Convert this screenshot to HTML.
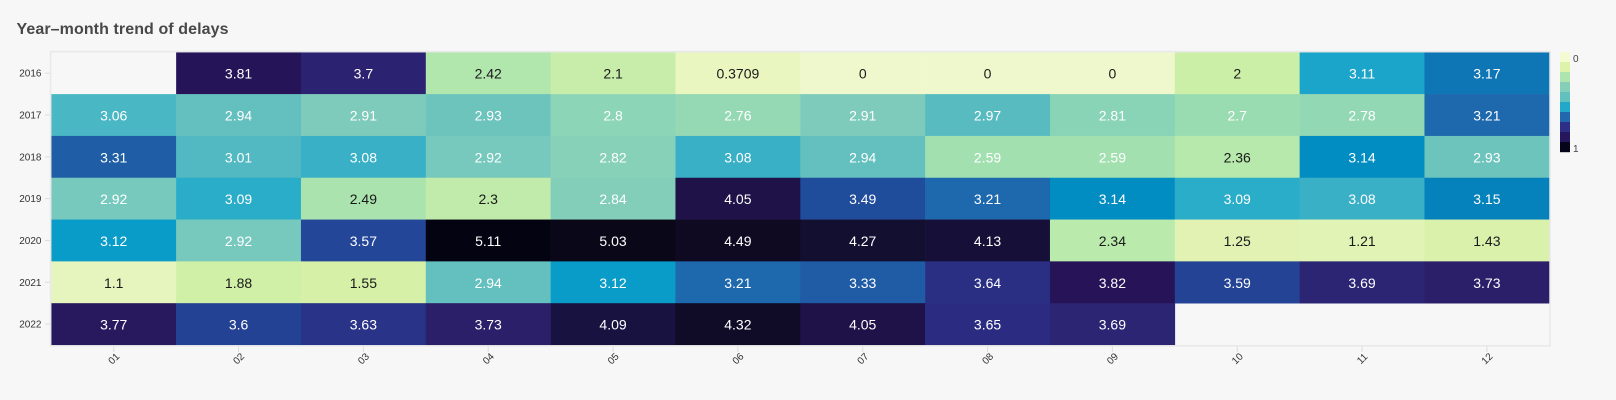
<!DOCTYPE html>
<html>
<head>
<meta charset="utf-8">
<title>Year–month trend of delays</title>
<style>
html,body{margin:0;padding:0;background:#f7f7f7;width:1616px;height:400px;overflow:hidden}
svg{display:block;font-family:"Liberation Sans",sans-serif}
</style>
</head>
<body>
<svg id="chart" width="1616" height="400" viewBox="0 0 1616 400">
<rect x="0" y="0" width="1616" height="400" fill="#f7f7f7"></rect>
<text x="16.5" y="34" font-size="16" font-weight="700" fill="#484848" textLength="212" lengthAdjust="spacing">Year–month trend of delays</text>
<g id="cells"></g>
<rect x="50.6" y="51.6" width="1499.4" height="294.2" fill="none" stroke="#e8e8e8" stroke-width="1.5"></rect>
<g id="y-axis"></g>
<g id="x-axis"></g>
<g id="legend"></g>
</svg>
<script>
const years = ['2016', '2017', '2018', '2019', '2020', '2021', '2022'];
const months = ['01', '02', '03', '04', '05', '06', '07', '08', '09', '10', '11', '12'];
const values2016 = [null, 3.81, 3.7, 2.42, 2.1, 0.3709, 0, 0, 0, 2, 3.11, 3.17];
const values2017 = [3.06, 2.94, 2.91, 2.93, 2.8, 2.76, 2.91, 2.97, 2.81, 2.7, 2.78, 3.21];
const values2018 = [3.31, 3.01, 3.08, 2.92, 2.82, 3.08, 2.94, 2.59, 2.59, 2.36, 3.14, 2.93];
const values2019 = [2.92, 3.09, 2.49, 2.3, 2.84, 4.05, 3.49, 3.21, 3.14, 3.09, 3.08, 3.15];
const values2020 = [3.12, 2.92, 3.57, 5.11, 5.03, 4.49, 4.27, 4.13, 2.34, 1.25, 1.21, 1.43];
const values2021 = [1.1, 1.88, 1.55, 2.94, 3.12, 3.21, 3.33, 3.64, 3.82, 3.59, 3.69, 3.73];
const values2022 = [3.77, 3.6, 3.63, 3.73, 4.09, 4.32, 4.05, 3.65, 3.69, null, null, null];
const seriesByYear = [values2016, values2017, values2018, values2019, values2020, values2021, values2022];
const legendColors = ['#f4fad2', '#dcf3a9', '#aee4ae', '#85cfb9', '#62c0bd', '#22a8c9', '#2268ae', '#2b2f85', '#26175c', '#05051a'];
const legendTicks = ['0', '1'];
const scaleValues = [0, 0.37, 1.1, 1.25, 1.55, 1.88, 2, 2.1, 2.3, 2.36, 2.42, 2.49, 2.59, 2.7, 2.78, 2.81, 2.84, 2.91, 2.92, 2.93, 2.94, 2.97, 3.01, 3.06, 3.08, 3.09, 3.11, 3.12, 3.14, 3.15, 3.17, 3.21, 3.33, 3.49, 3.57, 3.6, 3.63, 3.65, 3.69, 3.73, 3.77, 3.82, 4.05, 4.09, 4.13, 4.27, 4.32, 4.49, 5.03, 5.11];
const scaleColors = ['#eff8cd', '#e9f6c0', '#e6f5bd', '#e1f2b3', '#d6f0a8', '#cff0a6', '#ccefa8', '#c8edaa', '#c1ebab', '#b7e9ac', '#b1e6ad', '#abe3ae', '#a2e0b0', '#9adcb2', '#93d8b4', '#89d3b7', '#82ceb9', '#7fcbbb', '#77c8bd', '#6cc4bd', '#63c0bf', '#58bbc0', '#52b9c2', '#49b7c4', '#3ab0c7', '#2aadc8', '#1ca5ca', '#0a9cc8', '#028dc2', '#0582bc', '#0f76b6', '#1e68ad', '#1f5ca5', '#204c9c', '#234698', '#244294', '#293388', '#2b2c81', '#2b2574', '#2b1f69', '#28195f', '#261358', '#1e1248', '#181240', '#161038', '#120f30', '#100c28', '#0f0a22', '#0a0718', '#040312'];

const NS = 'http://www.w3.org/2000/svg';
const plot = {left: 51.3, right: 1549.3, top: 52.3, bottom: 345};
const cellW = (plot.right - plot.left) / months.length;
const cellH = (plot.bottom - plot.top) / years.length;
function xScale(i) { return plot.left + i * cellW; }
function yScale(i) { return plot.top + i * cellH; }
function hexToRgb(h) {
  return [parseInt(h.slice(1, 3), 16), parseInt(h.slice(3, 5), 16), parseInt(h.slice(5, 7), 16)];
}
function colorScale(v) {
  const n = scaleValues.length;
  if (v <= scaleValues[0]) return scaleColors[0];
  if (v >= scaleValues[n - 1]) return scaleColors[n - 1];
  let i = 1;
  while (scaleValues[i] < v) i++;
  const t = (v - scaleValues[i - 1]) / (scaleValues[i] - scaleValues[i - 1]);
  const a = hexToRgb(scaleColors[i - 1]);
  const b = hexToRgb(scaleColors[i]);
  return 'rgb(' + a.map(function (c, k) { return Math.round(c + (b[k] - c) * t); }).join(',') + ')';
}
function make(tag, attrs, parent) {
  const el = document.createElementNS(NS, tag);
  Object.keys(attrs).forEach(function (k) { el.setAttribute(k, attrs[k]); });
  parent.appendChild(el);
  return el;
}

const cellsGroup = document.getElementById('cells');
seriesByYear.forEach(function (row, r) {
  row.forEach(function (v, c) {
    if (v === null) return;
    const rect = make('rect', {x: xScale(c), y: yScale(r), width: cellW + 0.3, height: cellH + 0.3, fill: colorScale(v)}, cellsGroup);
    
    
  });
});
seriesByYear.forEach(function (row, r) {
  row.forEach(function (v, c) {
    if (v === null) return;
    const label = make('text', {x: xScale(c) + cellW / 2, y: yScale(r) + cellH / 2 + 5.5, 'font-size': 14, 'text-anchor': 'middle', fill: v < 2.5 ? '#1a1a1a' : '#ffffff'}, cellsGroup);
    
    
    label.textContent = String(v);
  });
});

const yAxis = document.getElementById('y-axis');
years.forEach(function (year, i) {
  const cy = yScale(i) + cellH / 2;
  const tick = make('line', {x1: 45, x2: 50, y1: cy, y2: cy, stroke: '#dddddd', 'stroke-width': 1}, yAxis);
  
  
  const label = make('text', {x: 41.5, y: cy + 3.5, 'font-size': 10, 'text-anchor': 'end', fill: '#333333'}, yAxis);
  
  
  label.textContent = year;
});

const xAxis = document.getElementById('x-axis');
months.forEach(function (month, i) {
  const cx = xScale(i) + cellW / 2;
  const tick = make('line', {x1: cx, x2: cx, y1: 346.5, y2: 352, stroke: '#dddddd', 'stroke-width': 1}, xAxis);
  
  
  const label = make('text', {x: 0, y: 3.5, 'font-size': 10, 'text-anchor': 'middle', fill: '#333333', transform: 'translate(' + cx + ' 358.5) rotate(-45)'}, xAxis);
  
  
  label.textContent = month;
});

const legend = document.getElementById('legend');
legendColors.forEach(function (color, i) {
  const band = make('rect', {x: 1560, y: 52 + i * 10, width: 10, height: 10.2, fill: color}, legend);
  
  
});
legendTicks.forEach(function (tickText, i) {
  const label = make('text', {x: 1573, y: i === 0 ? 62 : 152, 'font-size': 10, fill: '#444444'}, legend);
  
  
  label.textContent = tickText;
});
</script>
</body>
</html>
